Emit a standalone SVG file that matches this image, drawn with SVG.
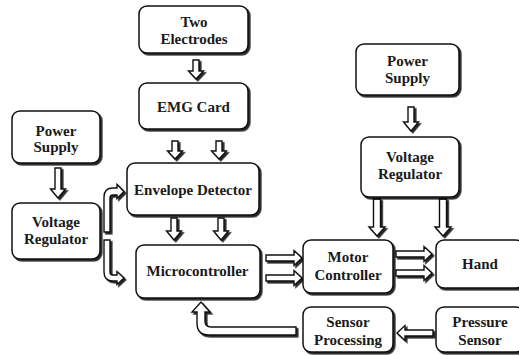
<svg xmlns="http://www.w3.org/2000/svg" width="519" height="355" viewBox="0 0 519 355">
<defs>
<filter id="sh" x="-10%" y="-10%" width="130%" height="130%">
<feDropShadow dx="1.8" dy="1.8" stdDeviation="0.5" flood-color="#000" flood-opacity="0.85"/>
</filter>
<style>
.box{fill:#fff;stroke:#111;stroke-width:1.5;filter:url(#sh)}
.arr{fill:#fff;stroke:#111;stroke-width:1.4;stroke-linejoin:miter;filter:url(#sh)}
.t{font-family:'Liberation Serif','Times New Roman',Times,serif;font-weight:700;font-size:15px;fill:#1a1a1a;text-anchor:middle}
</style>
</defs>
<rect width="519" height="355" fill="#fff"/>

<g id="connectors">
<path class="arr" d="M193,60 H199 V71 H203.5 L196,79 L188.5,71 H193 Z"/>
<path class="arr" d="M172,141 H178 V151 H182.5 L175,159 L167.5,151 H172 Z"/>
<path class="arr" d="M216,141 H222 V151 H226.5 L219,159 L211.5,151 H216 Z"/>
<path class="arr" d="M171,218 H177 V231 H181.5 L174,240 L166.5,231 H171 Z"/>
<path class="arr" d="M218,218 H224 V231 H228.5 L221,240 L213.5,231 H218 Z"/>
<path class="arr" d="M55,168 H61 V189 H65.5 L58,198 L50.5,189 H55 Z"/>
<path class="arr" d="M408,107 H414 V122 H418.5 L411,131 L403.5,122 H408 Z"/>
<path class="arr" d="M373.5,199 H380.5 V227 H385 L377,236 L369,227 H373.5 Z"/>
<path class="arr" d="M439.5,199 H446.5 V227 H451 L443,236 L435,227 H439.5 Z"/>
<path class="arr" d="M266,255 V261 H294 V265.5 L302,258 L294,250.5 V255 Z"/>
<path class="arr" d="M266,275 V281 H294 V285.5 L302,278 L294,270.5 V275 Z"/>
<path class="arr" d="M396,251 V257 H424 V261.5 L432,254 L424,246.5 V251 Z"/>
<path class="arr" d="M396,270 V276 H424 V280.5 L432,273 L424,265.5 V270 Z"/>
<path class="arr" d="M433,330 V336 H405 V340.5 L397,333 L405,325.5 V330 Z"/>
<path class="arr" d="M296,327 H211 Q205,327 205,321 V312 H210 L201,302 L192,312 H197 V323 Q197,335 209,335 H296 Z"/>
<path class="arr" d="M104,232 V197 Q104,188 113,188 H117 V184.5 L124,191.5 L117,198.5 V195 H113 Q110,195 110,198 V232 Z"/>
<path class="arr" d="M104,240 H110 V272 Q110,275 113,275 H117 V271.5 L124,278 L117,284.5 V281 H113 Q104,281 104,272 Z"/>
</g>

<g id="two-electrodes">
<rect class="box" x="139" y="6" width="109" height="47" rx="8"/>
<text class="t" x="194" y="27">Two</text>
<text class="t" x="194" y="44">Electrodes</text>
</g>
<g id="emg-card">
<rect class="box" x="139" y="83" width="109" height="46" rx="8"/>
<text class="t" x="193.5" y="112">EMG Card</text>
</g>
<g id="power-supply-left">
<rect class="box" x="12" y="111" width="88" height="52" rx="8"/>
<text class="t" x="56" y="136">Power</text>
<text class="t" x="56" y="152">Supply</text>
</g>
<g id="voltage-regulator-left">
<rect class="box" x="12" y="203" width="88" height="56" rx="8"/>
<text class="t" x="56" y="227">Voltage</text>
<text class="t" x="56" y="244">Regulator</text>
</g>
<g id="envelope-detector">
<rect class="box" x="127" y="163" width="132" height="52" rx="8"/>
<text class="t" x="193" y="195">Envelope Detector</text>
</g>
<g id="microcontroller">
<rect class="box" x="136" y="245" width="124" height="53" rx="8"/>
<text class="t" x="197.5" y="276">Microcontroller</text>
</g>
<g id="power-supply-right">
<rect class="box" x="356" y="44" width="103" height="51" rx="8"/>
<text class="t" x="407.5" y="66">Power</text>
<text class="t" x="407.5" y="83">Supply</text>
</g>
<g id="voltage-regulator-right">
<rect class="box" x="361" y="137" width="98" height="60" rx="8"/>
<text class="t" x="410" y="162">Voltage</text>
<text class="t" x="410" y="179">Regulator</text>
</g>
<g id="motor-controller">
<rect class="box" x="303" y="240" width="90" height="53" rx="8"/>
<text class="t" x="348" y="262">Motor</text>
<text class="t" x="348" y="280">Controller</text>
</g>
<g id="hand">
<rect class="box" x="436" y="240" width="88" height="48" rx="8"/>
<text class="t" x="480" y="269">Hand</text>
</g>
<g id="sensor-processing">
<rect class="box" x="303" y="307" width="90" height="45" rx="8"/>
<text class="t" x="348" y="327">Sensor</text>
<text class="t" x="348" y="345">Processing</text>
</g>
<g id="pressure-sensor">
<rect class="box" x="436" y="307" width="88" height="45" rx="8"/>
<text class="t" x="480" y="327">Pressure</text>
<text class="t" x="480" y="345">Sensor</text>
</g>
</svg>
